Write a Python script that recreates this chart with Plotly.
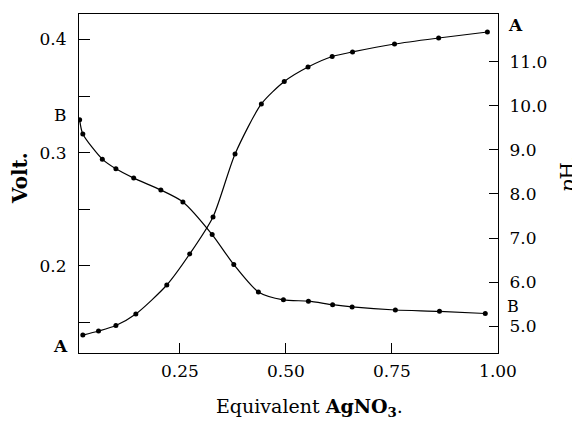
import plotly.graph_objects as go

# Curve A (rising) - potential, left axis (Volt.)
a_x = [0.021, 0.058, 0.099, 0.146, 0.219, 0.273, 0.328, 0.380, 0.442, 0.496,
       0.552, 0.609, 0.657, 0.756, 0.860, 0.975]
a_volt = [0.139, 0.1426, 0.1475, 0.1576, 0.1832, 0.2106, 0.2433, 0.2989, 0.343, 0.3628,
          0.3756, 0.3849, 0.3889, 0.3959, 0.4012, 0.4065]

# Curve B (falling) - pH, right axis
b_x = [0.0135, 0.021, 0.067, 0.099, 0.141, 0.205, 0.257, 0.326, 0.377, 0.435,
       0.494, 0.553, 0.610, 0.656, 0.758, 0.862, 0.970]
b_ph = [9.68, 9.36, 8.79, 8.57, 8.36, 8.09, 7.82, 7.08, 6.40, 5.78,
        5.60, 5.57, 5.49, 5.44, 5.37, 5.34, 5.29]

x_ticks = [0.25, 0.50, 0.75, 1.00]
x_labels = ["0.25", "0.50", "0.75", "1.00"]
volt_ticks = [0.20, 0.30, 0.40]
volt_labels = ["0.2", "0.3", "0.4"]
volt_minor = [0.15, 0.25, 0.35]
ph_ticks = [5, 6, 7, 8, 9, 10, 11]
ph_labels = ["5.0", "6.0", "7.0", "8.0", "9.0", "10.0", "11.0"]

FONT = "DejaVu Serif"
TICKFONT = dict(family=FONT, size=17, color="black")
fig = go.Figure()
fig.add_trace(go.Scatter(x=a_x, y=a_volt, mode="lines+markers", yaxis="y",
                         line=dict(color="black", width=1.2, shape="spline", smoothing=0.7),
                         marker=dict(color="black", size=5), showlegend=False))
fig.add_trace(go.Scatter(x=b_x, y=b_ph, mode="lines+markers", yaxis="y2",
                         line=dict(color="black", width=1.2, shape="spline", smoothing=0.7),
                         marker=dict(color="black", size=5), showlegend=False))

# page body has an 8px margin, so the figure is 8px smaller and shifted
fig.update_layout(
    width=572, height=414,
    margin=dict(l=71, r=82, t=6, b=69, autoexpand=False),
    plot_bgcolor="white", paper_bgcolor="white",
    font=dict(family=FONT, size=18, color="black"),
    xaxis=dict(range=[0.012, 1.0], tickvals=x_ticks, ticktext=x_labels,
               ticks="inside", ticklen=10, tickcolor="black", showline=True,
               linecolor="black", linewidth=1.2, mirror=True, showgrid=False,
               zeroline=False, ticklabelstandoff=2, tickfont=TICKFONT,
               automargin=False),
    yaxis=dict(range=[0.1232, 0.4224], tickvals=volt_ticks, ticktext=volt_labels,
               ticks="inside", ticklen=11, tickcolor="black", showline=True,
               linecolor="black", linewidth=1.2, showgrid=False, zeroline=False,
               ticklabelstandoff=8, tickfont=TICKFONT, automargin=False,
               minor=dict(tickmode="array", tickvals=volt_minor, ticks="inside",
                          ticklen=11, tickcolor="black")),
    yaxis2=dict(range=[4.395, 12.08], tickvals=ph_ticks, ticktext=ph_labels,
                overlaying="y", side="right",
                ticks="inside", ticklen=9, tickcolor="black", showline=True,
                linecolor="black", linewidth=1.2, showgrid=False, zeroline=False,
                ticklabelstandoff=7, tickfont=TICKFONT, automargin=False),
)

C = dict(xanchor="center", yanchor="middle", showarrow=False)
ann = [
    dict(text="<b>Volt.</b>", x=-0.141, y=0.516, xref="paper", yref="paper",
         textangle=-90, font=dict(size=20), **C),
    dict(text="<i>p</i>H.", x=1.167, y=0.53, xref="paper", yref="paper",
         textangle=-90, font=dict(size=20), **C),
    dict(text="Equivalent <b>AgNO<sub>3</sub></b>.", x=0.551, y=-0.162,
         xref="paper", yref="paper", font=dict(size=19), **C),
    dict(text="B", x=-0.045, y=0.3333, xref="paper", yref="y", font=dict(size=17), **C),
    dict(text="<b>A</b>", x=-0.043, y=0.1294, xref="paper", yref="y", font=dict(size=17), **C),
    dict(text="<b>A</b>", x=1.041, y=11.83, xref="paper", yref="y2", font=dict(size=17), **C),
    dict(text="B", x=1.036, y=5.46, xref="paper", yref="y2", font=dict(size=16), **C),
]
fig.update_layout(annotations=ann)

fig.write_html("out.html")
